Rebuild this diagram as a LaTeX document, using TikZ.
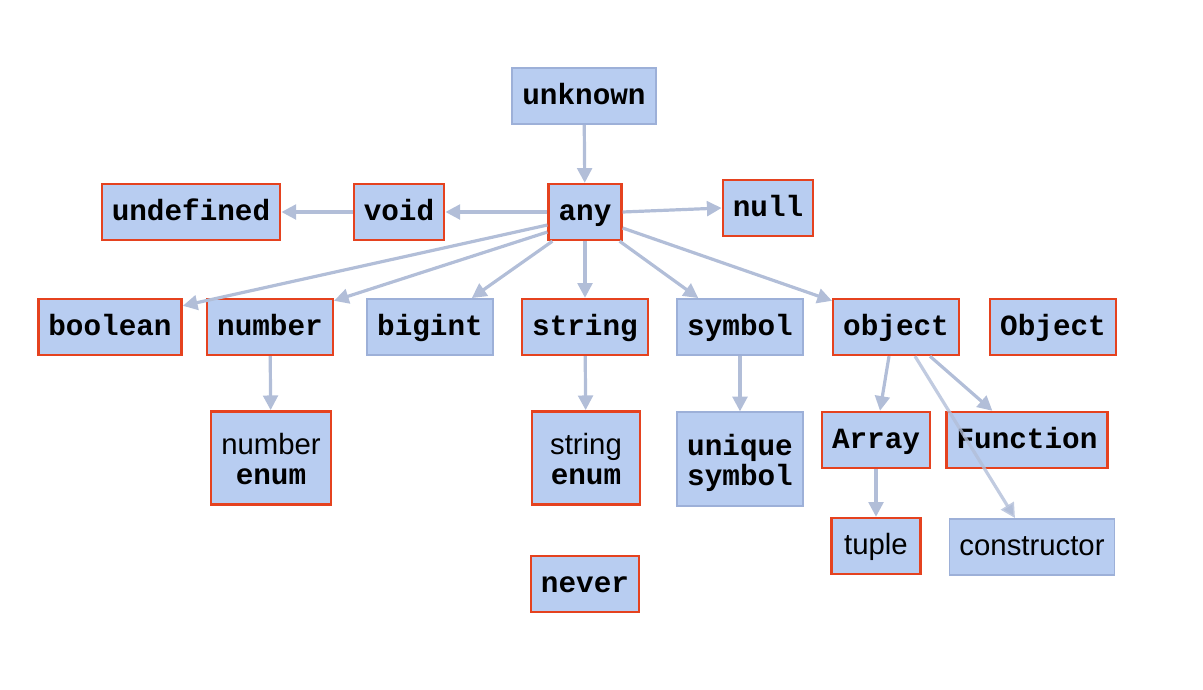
\documentclass[tikz,border=0pt]{standalone}
\usepackage{fontspec}
\setmainfont{Liberation Sans}
\setmonofont{Liberation Mono}
\usetikzlibrary{arrows.meta, calc}

\definecolor{boxfill}{HTML}{B8CDF1}
\definecolor{boxline}{HTML}{9DB0D8}
\definecolor{arrline}{HTML}{B2BED8}
\definecolor{redline}{HTML}{E5421F}

\newcommand{\tyname}[1]{{\ttfamily\bfseries #1}}

\begin{document}
\begin{tikzpicture}[
  x=0.75pt, y=-0.75pt,
  every node/.style={font=\fontsize{22}{23}\selectfont},
  typebox/.style={rectangle, draw=boxline, line width=1.4pt, fill=boxfill,
                  inner xsep=7.5pt, inner ysep=0pt, minimum height=42pt,
                  text height=15pt, text depth=3pt, align=center},
  marked/.style={typebox, draw=redline, line width=1.8pt},
  tallbox/.style={minimum height=70pt, text height=43pt},
  arr/.style={-{Triangle[length=11pt, width=11pt]}, line width=2.4pt, arrline}
]
  \useasboundingbox (0,0) rectangle (1203,689);

  % top levels
  \node[typebox] (unknown) at (584,96) {\tyname{unknown}};
  \node[marked] (any) at (585,212) {\tyname{any}};
  \node[marked] (void) at (399,212) {\tyname{void}};
  \node[marked] (undefined) at (191,212) {\tyname{undefined}};
  \node[marked] (null) at (768,208) {\tyname{null}};

  % primitive row
  \node[marked] (boolean) at (110,327) {\tyname{boolean}};
  \node[marked] (number) at (270,327) {\tyname{number}};
  \node[typebox] (bigint) at (430,327) {\tyname{bigint}};
  \node[marked] (string) at (585,327) {\tyname{string}};
  \node[typebox] (symbol) at (740,327) {\tyname{symbol}};
  \node[marked] (object) at (896,327) {\tyname{object}};
  \node[marked] (Object) at (1053,327) {\tyname{Object}};

  % subtypes
  \node[marked, tallbox] (numenum) at (271,458) {number\\\tyname{enum}};
  \node[marked, tallbox, minimum width=81pt] (strenum) at (586,458) {string\\\tyname{enum}};
  \node[typebox, tallbox] (unique) at (740,459) {\tyname{unique}\\\tyname{symbol}};
  \node[marked] (Array) at (876,440) {\tyname{Array}};
  \node[marked] (Function) at (1027,440) {\tyname{Function}};
  \node[marked, minimum width=67pt] (tuple) at (876,546) {tuple};
  \node[typebox] (ctor) at (1032,547) {constructor};
  \node[marked] (never) at (585,584) {\tyname{never}};

  \draw[arr] (unknown) -- (any);
  \draw[arr] (any) -- (void);
  \draw[arr] (void) -- (undefined);
  \draw[arr] (any.east) -- (null.west);
  \draw[arr] ($(any.west)+(0,13)$) -- ($(boolean.north east)+(0,8)$);
  \draw[arr] ($(any.west)+(0,20)$) -- ($(number.north east)+(0,3)$);
  \draw[arr] ($(any.south west)+(5,0)$) -- ($(bigint.north east)+(-22,0)$);
  \draw[arr] (any.south) -- (string.north);
  \draw[arr] ($(any.south east)+(-3,0)$) -- ($(symbol.north west)+(22,0)$);
  \draw[arr] ($(any.east)+(0,16)$) -- ($(object.north west)+(0,3)$);
  \draw[arr] (number) -- (numenum);
  \draw[arr] (string) -- (strenum);
  \draw[arr] (symbol) -- (unique);
  \draw[arr] ($(object.south)+(-7,0)$) -- ($(Array.north)+(4,0)$);
  \draw[arr] ($(object.south)+(34,0)$) -- ($(Function.north west)+(47,0)$);
  \draw[arr] (Array) -- (tuple);
  \draw[arr, draw opacity=0.8] ($(object.south)+(19,0)$) -- ($(ctor.north)+(-17,0)$);
\end{tikzpicture}
\end{document}
